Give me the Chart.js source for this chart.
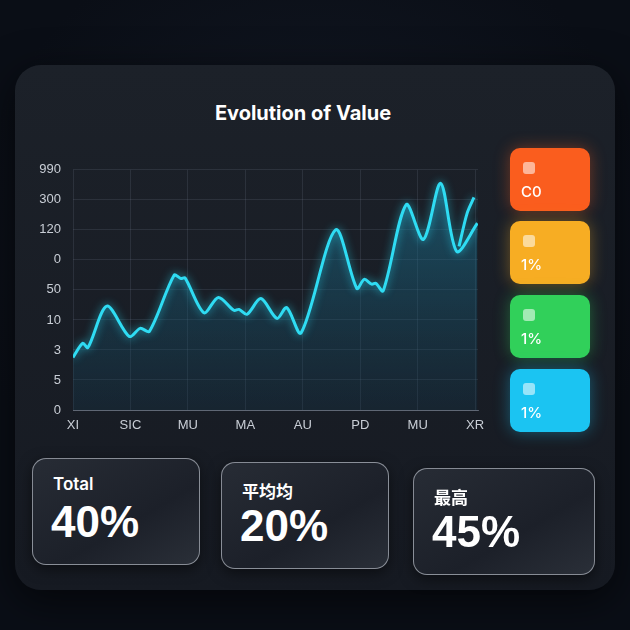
<!DOCTYPE html>
<html lang="en">
<head>
  <meta charset="UTF-8">
  <title>Evolution of Value</title>
  <script src="https://cdn.jsdelivr.net/npm/chart.js"></script>
  <style>
    html, body {
      margin: 0;
      width: 630px;
      height: 630px;
      overflow: hidden;
      background: radial-gradient(circle at 50% 40%, #131925 0%, #0a0e16 70%);
      font-family: Inter, "Noto Sans", "Noto Sans CJK SC", sans-serif;
      color: #fff;
    }
    .panel {
      position: absolute;
      left: 15px; top: 65px;
      width: 600px; height: 525px;
      border-radius: 26px;
      background: linear-gradient(180deg, #1c2129 0%, #161a22 100%);
      box-shadow: 0 10px 40px rgba(0,0,0,0.6);
    }
    h1 {
      position: absolute;
      left: 0; top: 101px; width: 606px;
      margin: 0;
      text-align: center;
      font-size: 20px;
      font-weight: 700;
    }
    #chartBox {
      position: absolute;
      left: 20px; top: 150px;
      width: 475px; height: 290px;
    }
    .leg {
      position: absolute;
      left: 510px;
      width: 80px; height: 63px;
      border-radius: 10px;
    }
    .leg .sq {
      position: absolute;
      left: 13px; top: 14px;
      width: 12px; height: 12px;
      border-radius: 3px;
      background: rgba(255,255,255,0.55);
    }
    .leg .txt {
      position: absolute;
      left: 11px; top: 34px;
      font-size: 15px;
      font-weight: 500;
    }
    .card {
      position: absolute;
      width: 166px; height: 105px;
      border-radius: 14px;
      border: 1.5px solid rgba(220,225,235,0.55);
      background: linear-gradient(150deg, #272c35 0%, #1c2029 60%, #2a2f38 100%);
      box-shadow: 0 4px 14px rgba(0,0,0,0.5);
    }
    .card .lbl {
      position: absolute;
      left: 20px; top: 15px;
      font-size: 17px;
      font-weight: 600;
    }
    .card .val {
      position: absolute;
      left: 18px; top: 38px;
      font-family: "Liberation Sans", Arial, sans-serif;
      font-size: 44px;
      font-weight: 700;
    }
  </style>
</head>
<body>
  <div class="panel"></div>
  <h1>Evolution of Value</h1>
  <div id="chartBox"><canvas id="chart"></canvas></div>
  <div id="legend"></div>
  <div id="cards"></div>

  <script>
    // Axes
    const xLabels = ['XI', 'SIC', 'MU', 'MA', 'AU', 'PD', 'MU', 'XR'];
    const yLabels = ['0', '5', '3', '10', '50', '0', '120', '300', '990'];

    // Main series (x in category steps, y in grid steps)
    const xs = [0, 0.17, 0.26, 0.59, 0.98, 1.17, 1.33, 1.76, 1.88, 1.95, 2.28, 2.53, 2.80, 2.89, 3.03, 3.27,
                3.55, 3.72, 3.97, 4.57, 4.94, 5.07, 5.20, 5.27, 5.40, 5.80, 6.10, 6.40, 6.68, 7.04];
    const ys = [1.75, 2.22, 2.08, 3.46, 2.45, 2.72, 2.62, 4.49, 4.38, 4.40, 3.24, 3.75, 3.32, 3.35, 3.19, 3.71,
                3.05, 3.41, 2.57, 6.00, 4.05, 4.35, 4.19, 4.22, 3.97, 6.84, 5.68, 7.55, 5.28, 6.22];
    // Second short stroke at the end
    const xs2 = [6.72, 6.86, 6.98];
    const ys2 = [5.45, 6.55, 7.08];

    // Side legend
    const legendTexts = ['C0', '1%', '1%', '1%'];
    const legendColors = ['#fa5d1e', '#f7ad23', '#31d05a', '#1bc4f2'];

    // Bottom cards
    const cardLabels = ['Total', '平均均', '最高'];
    const cardValues = ['40%', '20%', '45%'];

    const legendTops = [148, 221, 295, 369];
    document.getElementById('legend').innerHTML = legendTexts.map((t, i) =>
      `<div class="leg" style="top:${legendTops[i]}px;background:${legendColors[i]};box-shadow:0 0 16px ${legendColors[i]}66">
         <div class="sq"></div><div class="txt">${t}</div></div>`).join('');

    const cardPos = [[32, 458], [221, 462], [413, 468]];
    document.getElementById('cards').innerHTML = cardLabels.map((l, i) =>
      `<div class="card" style="left:${cardPos[i][0]}px;top:${cardPos[i][1]}px;width:${i === 2 ? 180 : 166}px">
         <div class="lbl">${l}</div><div class="val">${cardValues[i]}</div></div>`).join('');

    const glow = {
      id: 'glow',
      beforeDatasetDraw(chart) {
        chart.ctx.save();
        chart.ctx.shadowColor = 'rgba(40,220,245,0.7)';
        chart.ctx.shadowBlur = 8;
      },
      afterDatasetDraw(chart) {
        chart.ctx.restore();
      }
    };

    const ctx = document.getElementById('chart').getContext('2d');
    const grad = ctx.createLinearGradient(0, 0, 0, 290);
    grad.addColorStop(0, 'rgba(30,140,175,0.55)');
    grad.addColorStop(1, 'rgba(20,50,70,0.25)');

    new Chart(ctx, {
      type: 'line',
      data: {
        datasets: [{
          data: xs.map((x, i) => ({ x: x, y: ys[i] })),
          borderColor: '#2fdcf3',
          borderWidth: 3,
          backgroundColor: grad,
          fill: 'origin',
          tension: 0.3,
          pointRadius: 0
        }, {
          data: xs2.map((x, i) => ({ x: x, y: ys2[i] })),
          borderColor: '#2fdcf3',
          borderWidth: 3,
          fill: false,
          tension: 0.3,
          pointRadius: 0
        }]
      },
      options: {
        responsive: true,
        maintainAspectRatio: false,
        animation: false,
        layout: { padding: { top: 13, right: 17 } },
        plugins: { legend: { display: false }, tooltip: { enabled: false } },
        scales: {
          x: {
            type: 'linear',
            min: 0, max: 7.05,
            afterFit(s) { s.height = 30; },
            afterBuildTicks(s) { s.ticks = xLabels.map((_, i) => ({ value: i })); },
            grid: { color: 'rgba(120,135,155,0.18)', drawTicks: false },
            border: { color: 'rgba(150,160,175,0.5)' },
            ticks: {
              color: '#c9ced6',
              font: { size: 13 },
              padding: 8,
              callback: v => xLabels[v]
            }
          },
          y: {
            min: 0, max: 8,
            afterFit(s) { s.width = 53; },
            grid: { color: 'rgba(120,135,155,0.18)', drawTicks: false },
            border: { display: false },
            ticks: {
              stepSize: 1,
              color: '#c9ced6',
              font: { size: 13 },
              padding: 12,
              callback: v => yLabels[v]
            }
          }
        }
      },
      plugins: [glow]
    });
  </script>
</body>
</html>
